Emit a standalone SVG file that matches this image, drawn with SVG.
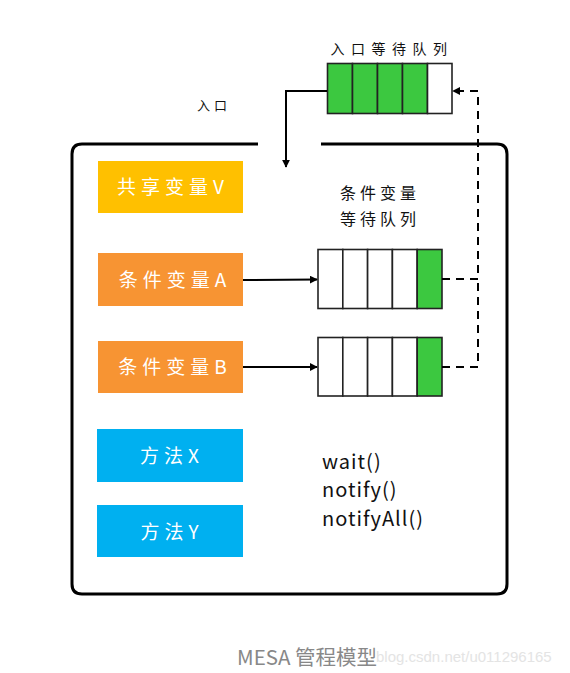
<svg xmlns="http://www.w3.org/2000/svg" width="570" height="673" viewBox="0 0 570 673">
<defs>
<marker id="ah" viewBox="0 0 10 10" refX="9" refY="5" markerWidth="8" markerHeight="8" markerUnits="userSpaceOnUse" orient="auto"><path d="M0,0 L10,5 L0,10 z" fill="#000"/></marker>
<style>
.box text{font-family:"Noto Sans CJK SC","Liberation Sans",sans-serif;font-size:19px;fill:#fff;text-anchor:middle;letter-spacing:5px}
.lbl{font-family:"Noto Sans CJK SC","Liberation Sans",sans-serif;fill:#111}
.cell{fill:#fff;stroke:#222;stroke-width:1.6}
.g{fill:#3cc840}
.conn{fill:none;stroke:#000;stroke-width:2}
.dash{fill:none;stroke:#000;stroke-width:2;stroke-dasharray:8,6}
</style>
</defs>
<rect width="570" height="673" fill="#fff"/>
<g id="frame">
<path d="M258,144 L82,144 Q72,144 72,154 L72,584 Q72,594 82,594 L497,594 Q507,594 507,584 L507,154 Q507,144 497,144 L321,144" fill="none" stroke="#000" stroke-width="3"/>
<text class="lbl" x="214" y="110" font-size="13" text-anchor="middle" letter-spacing="4">入口</text>
</g>
<g id="entry-queue">
<text class="lbl" x="392" y="54" font-size="14" text-anchor="middle" letter-spacing="6.5">入口等待队列</text>
<rect class="cell g" x="327.5" y="63.5" width="25" height="50"/>
<rect class="cell g" x="352.5" y="63.5" width="25" height="50"/>
<rect class="cell g" x="377.5" y="63.5" width="25" height="50"/>
<rect class="cell g" x="402.5" y="63.5" width="25" height="50"/>
<rect class="cell" x="427.5" y="63.5" width="24.5" height="50"/>
</g>
<g id="shared-v" class="box">
<rect x="98" y="161" width="145" height="52" fill="#ffc000"/>
<text x="173" y="194">共享变量V</text>
</g>
<g id="cond-a" class="box">
<rect x="98" y="253" width="145" height="53" fill="#f79433"/>
<text x="175" y="287">条件变量A</text>
</g>
<g id="cond-b" class="box">
<rect x="98" y="341" width="145" height="52" fill="#f79433"/>
<text x="175" y="374">条件变量B</text>
</g>
<g id="method-x" class="box">
<rect x="97" y="429" width="146" height="53" fill="#00b0f0"/>
<text x="172" y="463">方法X</text>
</g>
<g id="method-y" class="box">
<rect x="97" y="505" width="146" height="52" fill="#00b0f0"/>
<text x="172" y="539">方法Y</text>
</g>
<g id="cond-queue-label">
<text class="lbl" x="380" y="199" font-size="16" text-anchor="middle" letter-spacing="4">条件变量</text>
<text class="lbl" x="380" y="225" font-size="16" text-anchor="middle" letter-spacing="4">等待队列</text>
</g>
<g id="queue-a">
<rect class="cell" x="318" y="249.5" width="24.8" height="59"/>
<rect class="cell" x="342.8" y="249.5" width="24.8" height="59"/>
<rect class="cell" x="367.6" y="249.5" width="24.8" height="59"/>
<rect class="cell" x="392.4" y="249.5" width="24.8" height="59"/>
<rect class="cell g" x="417.2" y="249.5" width="24.8" height="59"/>
</g>
<g id="queue-b">
<rect class="cell" x="318" y="337.5" width="24.8" height="58.5"/>
<rect class="cell" x="342.8" y="337.5" width="24.8" height="58.5"/>
<rect class="cell" x="367.6" y="337.5" width="24.8" height="58.5"/>
<rect class="cell" x="392.4" y="337.5" width="24.8" height="58.5"/>
<rect class="cell g" x="417.2" y="337.5" width="24.8" height="58.5"/>
</g>
<g id="methods-text" class="lbl" font-size="20" letter-spacing="1">
<text x="322" y="469">wait()</text>
<text x="322" y="497">notify()</text>
<text x="322" y="526">notifyAll()</text>
</g>
<g id="connectors">
<path class="conn" d="M327,91 L286,91 L286,167" marker-end="url(#ah)"/>
<path class="conn" d="M243,280 L317,279.5" marker-end="url(#ah)"/>
<path class="conn" d="M243,367 L317,367" marker-end="url(#ah)"/>
<path class="dash" d="M442,279 L478,279 L478,91 L453,91" marker-end="url(#ah)"/>
<path class="dash" d="M442,367 L478,367 L478,279"/>
</g>
<g id="caption">
<text x="376" y="662" font-family="Liberation Sans,sans-serif" font-size="15" fill="#e4e4e4">blog.csdn.net/u011296165</text>
<text x="237" y="665" font-family="'Noto Sans CJK SC','Liberation Sans',sans-serif" font-size="20.5" fill="#888">MESA 管程模型</text>
</g>
</svg>
